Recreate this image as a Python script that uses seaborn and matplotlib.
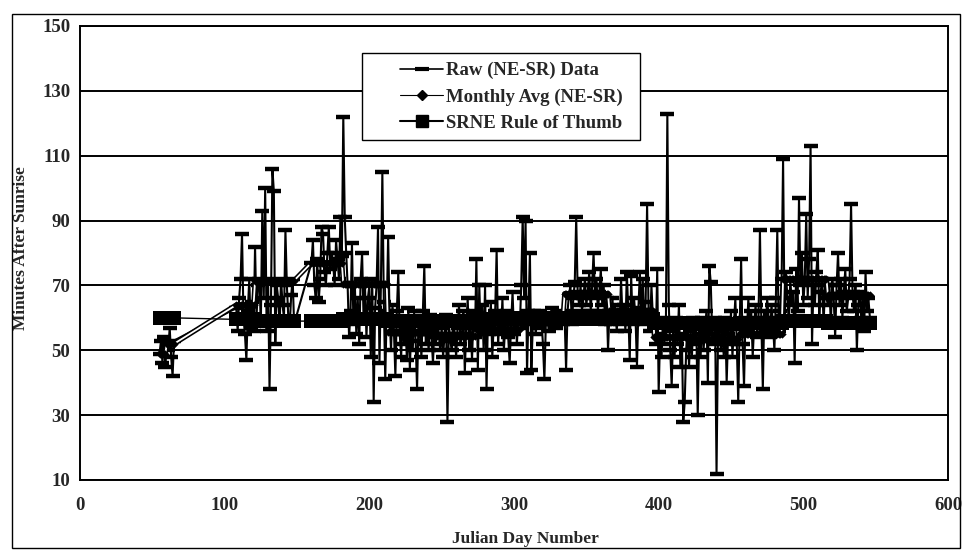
import numpy as np
import pandas as pd
import seaborn as sns
import matplotlib.pyplot as plt
import matplotlib.patheffects as pe
from matplotlib.lines import Line2D
from matplotlib.patches import Rectangle

# observation segments (first day, last day), one reading per day
segments = [(55, 65), (108, 148), (160, 546)]

# raw (NE-SR) minutes after sunrise
raw_a = [49, 53, 46, 54, 45, 52, 50, 57, 48, 42, 53]
raw_b = [63, 56, 66, 72, 86, 60, 55, 47, 62, 72,
         57, 65, 56, 82, 60, 70, 72, 58, 93, 66,
         100, 56, 72, 38, 64, 106, 99, 52, 70, 66,
         58, 72, 64, 60, 87, 70, 60, 58, 67, 72, 58]
raw_jun = [77, 84, 70, 66, 78, 65, 72, 88, 86, 74, 70, 80, 88, 75, 80, 77, 70, 84, 78, 72, 91, 79]
raw_jul = [122, 91, 80, 70, 54, 62, 83, 58, 70, 55, 66, 52, 72, 80, 60, 70, 54, 66, 70, 48,
           72, 34, 63, 70, 88, 46, 70, 105, 65, 41, 62]
raw_aug = [85, 60, 50, 64, 56, 42, 62, 74, 55, 48, 60, 52, 57, 47, 63, 44, 58, 50, 62, 53,
           38, 60, 55, 48, 62, 76, 52, 57, 50, 61, 54]
raw_sep = [46, 58, 52, 60, 55, 50, 57, 48, 55, 61, 28, 58, 53, 50, 60, 55, 48, 57, 64, 52,
           55, 62, 43, 58, 66, 50, 57, 47, 62, 54]
raw_oct = [78, 44, 70, 55, 64, 50, 70, 38, 60, 55, 65, 48, 58, 62, 81, 52, 60, 55, 66, 50,
           58, 62, 54, 46, 58, 68, 55, 61, 52, 60, 57]
raw_nov = [70, 91, 66, 90, 43, 62, 80, 44, 58, 62, 55, 60, 57, 62, 59, 52, 41, 58, 61, 56,
           60, 63, 58, 61, 57, 60, 62, 59, 61, 58]
raw_dec = [60, 44, 62, 67, 70, 58, 66, 71, 91, 68, 64, 70, 62, 66, 72, 64, 68, 74, 62, 70,
           80, 66, 72, 62, 68, 75, 64, 70, 58, 66, 50]
raw_jan = [62, 58, 66, 60, 64, 56, 62, 58, 72, 60, 64, 56, 74, 62, 47, 73, 58, 66, 60, 45,
           63, 74, 60, 72, 58, 65, 95, 62, 56, 70, 60]
raw_feb = [58, 52, 75, 37, 55, 48, 60, 52, 58, 123, 64, 50, 39, 56, 48, 60, 52, 64, 45, 55,
           28, 34, 50, 58, 45, 56, 48, 60]
raw_mar = [52, 58, 30, 55, 48, 60, 50, 56, 62, 40, 76, 71, 55, 52, 60, 12, 54, 58, 50, 56,
           48, 60, 40, 55, 52, 62, 48, 58, 66, 52, 34]
raw_apr = [58, 78, 52, 39, 60, 56, 66, 55, 62, 48, 58, 64, 54, 60, 87, 58, 38, 62, 56, 66,
           60, 54, 64, 58, 50, 66, 87, 56, 62, 72]
raw_may = [109, 60, 74, 66, 58, 72, 64, 68, 46, 75, 62, 97, 70, 80, 64, 72, 92, 66, 78, 113,
           52, 70, 64, 74, 81, 60, 68, 72, 58, 70, 66]
raw_jun2 = [64, 70, 58, 72, 66, 54, 70, 80, 64, 72, 60, 68, 75, 62, 66, 72, 95, 68, 62, 70,
            50, 64, 68, 60, 66, 56, 74, 62, 66, 60]

# monthly levels (first julian day of each month)
month_start = [32, 60, 91, 121, 152, 182, 213, 244, 274, 305, 335, 366, 397, 425, 456, 486, 517]
monthly_avg = [49, 52, 64, 71.5, 77, 70.5, 55.5, 54.5, 56.5, 61, 67.5, 62, 54, 53.5, 55, 72, 67]
srne_rule = [60, 60, 59.5, 59, 59, 59.5, 59, 59, 59.5, 60, 59.5, 59.5, 58.5, 58, 58.5, 59, 58.5]

days = np.concatenate([np.arange(a, b + 1) for a, b in segments])
raw = (raw_a + raw_b + raw_jun + raw_jul + raw_aug + raw_sep + raw_oct + raw_nov
       + raw_dec + raw_jan + raw_feb + raw_mar + raw_apr + raw_may + raw_jun2)
assert len(days) == len(raw)

month_idx = np.searchsorted(month_start, days, side='right') - 1
df = pd.DataFrame({'day': days, 'raw': raw,
                   'monthly': np.array(monthly_avg)[month_idx],
                   'srne': np.array(srne_rule)[month_idx]})

sns.set_style('white')
plt.rcParams['font.family'] = ['Liberation Serif', 'DejaVu Serif']
plt.rcParams['font.weight'] = 'bold'

fig, ax = plt.subplots(figsize=(9.64, 5.53), dpi=100)
fig.subplots_adjust(left=80 / 964, right=948 / 964, top=1 - 26 / 553, bottom=1 - 480 / 553)

# raw readings: line with dash markers
sns.lineplot(data=df, x='day', y='raw', ax=ax, color='black', lw=1.5,
             marker='_', markersize=10, markeredgewidth=3.2, markeredgecolor='black',
             estimator=None, errorbar=None, sort=False, zorder=3)
# monthly average: hollow double line + small diamonds
sns.lineplot(data=df, x='day', y='monthly', ax=ax, color='white', lw=1.3,
             estimator=None, errorbar=None, sort=False, zorder=4,
             path_effects=[pe.Stroke(linewidth=3.6, foreground='black'), pe.Normal()])
sns.scatterplot(data=df, x='day', y='monthly', ax=ax, color='black', marker='D',
                s=18, linewidth=0, zorder=4.5)
# rule of thumb: thin line with big squares
sns.lineplot(data=df, x='day', y='srne', ax=ax, color='black', lw=1.0,
             marker='s', markersize=9.5, markeredgewidth=0, estimator=None,
             errorbar=None, sort=False, zorder=5)

ax.set_xlim(0, 600)
ax.set_ylim(10, 150)
ax.set_xticks(range(0, 601, 100))
ax.set_yticks(range(10, 151, 20))
ax.yaxis.grid(True, color='black', lw=1.4)
ax.set_axisbelow(True)
for s in ax.spines.values():
    s.set_color('black')
    s.set_linewidth(1.4)
ax.tick_params(direction='out', length=4, width=1.2, labelsize=13.5, color='black')
ax.tick_params(axis='x', pad=8)
ax.tick_params(axis='y', pad=3)

ax.set_xlabel('Julian Day Number', fontsize=12.5, fontweight='bold')
ax.set_ylabel('Minutes After Sunrise', fontsize=12.5, fontweight='bold')
ax.xaxis.set_label_coords(0.513, -0.113)
ax.yaxis.set_label_coords(-0.059, 0.51)

# legend box drawn separately, entries placed inside it
box = Rectangle((362 / 964, 1 - 140 / 553), 278 / 964, 87 / 553,
                transform=fig.transFigure, fc='white', ec='black', lw=1,
                zorder=10, clip_on=False)
ax.add_patch(box)
handles = [Line2D([], [], color='black', lw=1.2, marker='_', markersize=10, markeredgewidth=3),
           Line2D([], [], color='black', lw=0.8, marker='D', markersize=5),
           Line2D([], [], color='black', lw=1.5, marker='s', markersize=8)]
labels = ['Raw (NE-SR) Data', 'Monthly Avg (NE-SR)', 'SRNE Rule of Thumb']
leg = ax.legend(handles, labels, loc='upper left', bbox_to_anchor=(400 / 964, 1 - 62 / 553),
                bbox_transform=fig.transFigure, frameon=False, fontsize=13.5,
                handlelength=2.3, borderpad=0, labelspacing=0.48, handletextpad=0.15,
                borderaxespad=0)
leg.set_zorder(11)

fig.add_artist(Rectangle((12 / 964, 1 - 548 / 553), 948 / 964, 534 / 553,
                         transform=fig.transFigure, fill=False, lw=1, ec='black'))

fig.savefig('out.png', dpi=100)
